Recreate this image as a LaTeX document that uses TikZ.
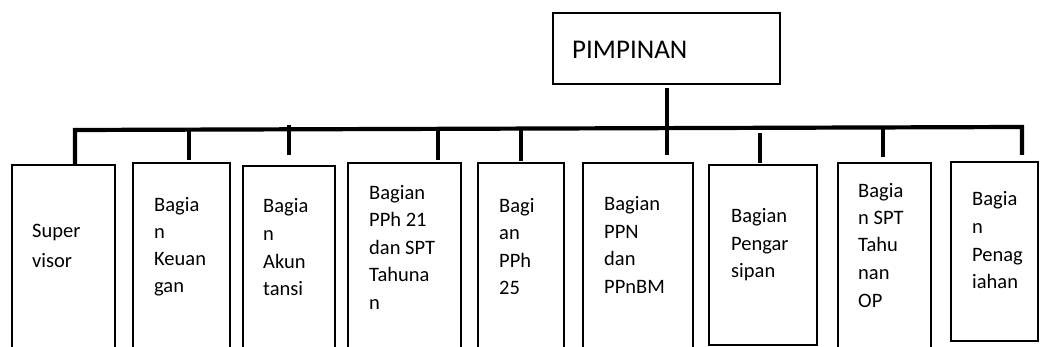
\documentclass[tikz,border=0pt]{standalone}
\usepackage{fontspec}
\setmainfont{Carlito}
\begin{document}
\begin{tikzpicture}[x=1pt,y=-1pt,
  unit/.style={draw, line width=1.8pt, anchor=north west, inner sep=0pt},
  % labels are placed by the baseline of their last line
  txt/.style={anchor=base west, inner sep=0pt, align=left,
    font=\fontsize{20.5}{27.5}\selectfont},
  link/.style={line width=3.6pt},
  bus/.style={line width=4.2pt, line join=miter}]
\useasboundingbox (0,0) rectangle (1041,347);
\clip (0,0) rectangle (1041,347);

% head box
\node[unit, minimum width=227pt, minimum height=71pt] (top) at (552,12) {};
\node[anchor=base west, inner sep=0pt, font=\fontsize{27}{30}\selectfont] (toptxt) at (572,58.5) {PIMPINAN};

% unit boxes (most run off the lower edge)
\node[unit, minimum width=103pt, minimum height=196pt] (b1) at (11,164) {};
\node[unit, minimum width=97pt,  minimum height=198pt] (b2) at (132,162) {};
\node[unit, minimum width=92pt,  minimum height=195pt] (b3) at (242,165) {};
\node[unit, minimum width=113pt, minimum height=198pt] (b4) at (347,162) {};
\node[unit, minimum width=86pt,  minimum height=198pt] (b5) at (477,162) {};
\node[unit, minimum width=110pt, minimum height=198pt] (b6) at (582,162) {};
\node[unit, minimum width=108pt, minimum height=180pt] (b7) at (708,164) {};
\node[unit, minimum width=93pt,  minimum height=198pt] (b8) at (837,162) {};
\node[unit, minimum width=87pt,  minimum height=179pt] (b9) at (950,161) {};

% unit labels
\node[txt, font=\fontsize{20.5}{30}\selectfont] (t1) at (32,268) {Super\\visor};
\node[txt, font=\fontsize{20.5}{26.7}\selectfont] (t2) at (154,292) {Bagia\\n\\Keuan\\gan};
\node[txt] (t3) at (263,295.5) {Bagia\\n\\Akun\\tansi};
\node[txt] (t4) at (369,309) {Bagian\\PPh 21\\dan SPT\\Tahuna\\n};
\node[txt] (t5) at (499,294.5) {Bagi\\an\\PPh\\25};
\node[txt] (t6) at (604,293.5) {Bagian\\PPN\\dan\\PPnBM};
\node[txt] (t7) at (731,278) {Bagian\\Pengar\\sipan};
\node[txt] (t8) at (858,307) {Bagia\\n SPT\\Tahu\\nan\\OP};
\node[txt] (t9) at (972,288.5) {Bagia\\n\\Penag\\iahan};

% horizontal bus with its two end drops
\coordinate (barL) at (75,130);
\coordinate (barR) at (1022,127);
\coordinate (endR) at (1022,155);
\draw[bus] (barL |- b1.north) -- (barL) -- (barR) -- (endR);

% line from the head box through the bus
\coordinate (hd1) at (667,88);
\coordinate (hd2) at (667,155);
\draw[link] (hd1) -- (hd2);

% drops to the units
\coordinate (d2) at (189,129);
\coordinate (d2e) at (189,160);
\coordinate (d3) at (289,125);
\coordinate (d3e) at (289,155);
\coordinate (d4) at (438,128.5);
\coordinate (d4e) at (438,160);
\coordinate (d5) at (521,128.5);
\coordinate (d5e) at (521,161);
\coordinate (d7) at (760,133);
\coordinate (d7e) at (760,163);
\coordinate (d8) at (883,127.5);
\coordinate (d8e) at (883,157);
\draw[link] (d2) -- (d2e);
\draw[link] (d3) -- (d3e);
\draw[link] (d4) -- (d4e);
\draw[link] (d5) -- (d5e);
\draw[link] (d7) -- (d7e);
\draw[link] (d8) -- (d8e);
\end{tikzpicture}
\end{document}
